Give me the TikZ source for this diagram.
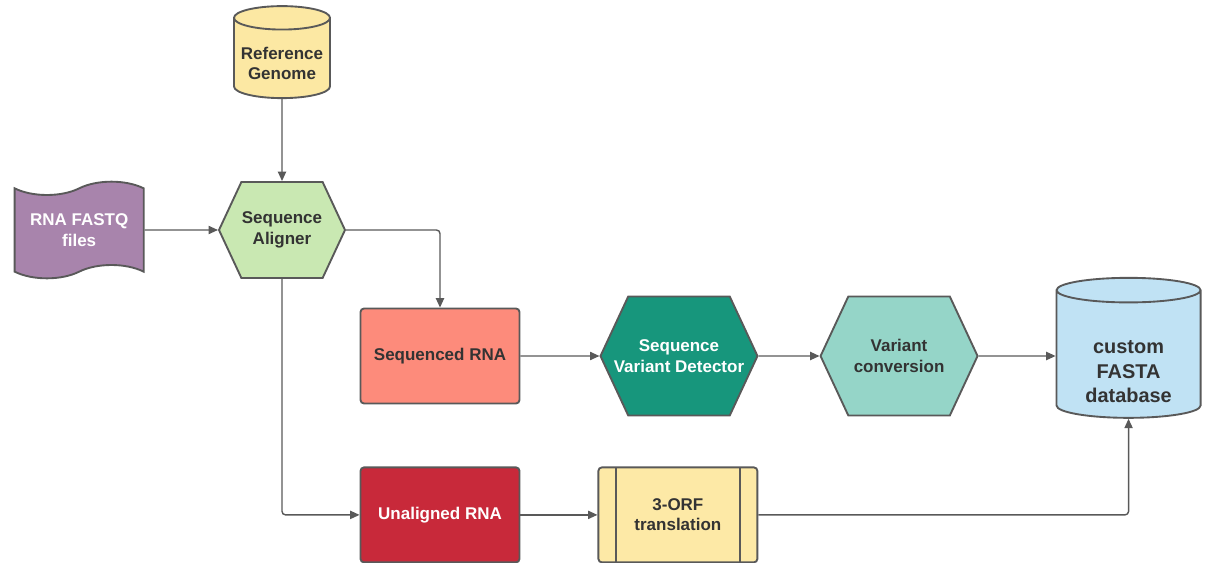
\documentclass[tikz,border=0pt]{standalone}
\usepackage{fontspec}
\setmainfont{Liberation Sans}
\usetikzlibrary{positioning, shapes.geometric, shapes.symbols, arrows.meta}

\definecolor{linegray}{HTML}{595959}
\definecolor{textdark}{HTML}{333333}
\definecolor{genomeyellow}{HTML}{FCE8A3}
\definecolor{alignergreen}{HTML}{C9E8B2}
\definecolor{fastqpurple}{HTML}{A884AC}
\definecolor{seqsalmon}{HTML}{FD8B7B}
\definecolor{detectteal}{HTML}{17967C}
\definecolor{convteal}{HTML}{95D5C8}
\definecolor{dbblue}{HTML}{C0E2F4}
\definecolor{unalignedred}{HTML}{C8293A}
\definecolor{orfyellow}{HTML}{FDE9A6}

\begin{document}
\begin{tikzpicture}[
    x=0.03cm, y=-0.03cm,
    >={Triangle[length=8pt,width=7pt]},
    arrow/.style={
        ->,
        draw=linegray,
        line width=1.2pt,
        rounded corners=3pt
    },
    base/.style={
        draw=linegray,
        line width=1.6pt,
        align=center,
        inner sep=2pt,
        text=textdark,
        font=\fontsize{14.5}{17.5}\selectfont\bfseries
    },
    box/.style={
        base,
        rectangle,
        rounded corners=3pt,
        minimum width=4.77cm,
        minimum height=2.85cm
    },
    process/.style={
        box,
        path picture={
            \draw[linegray, line width=1.6pt]
                ([xshift=0.52cm]path picture bounding box.north west) --
                ([xshift=0.52cm]path picture bounding box.south west);
            \draw[linegray, line width=1.6pt]
                ([xshift=-0.52cm]path picture bounding box.north east) --
                ([xshift=-0.52cm]path picture bounding box.south east);
        }
    },
    hexa/.style={
        base,
        signal,
        signal to=west and east,
        signal pointer angle=130,
        inner xsep=-14pt
    },
    drum/.style={
        base,
        cylinder,
        shape border rotate=90,
        aspect=0.27
    },
    flag/.style={
        base,
        tape,
        tape bend top=in and out,
        tape bend bottom=in and out,
        tape bend height=0.4cm,
        minimum width=3.87cm,
        minimum height=2.9cm
    }
]

    \useasboundingbox (0,0) rectangle (1210,563);

    % Alignment
    \node[hexa, fill=alignergreen, minimum width=3.78cm, minimum height=2.88cm] (aligner) at (282,230) {Sequence\\Aligner};
    \node[drum, fill=genomeyellow, minimum width=2.88cm, minimum height=2.76cm, text height=33pt, above=2.46cm of aligner] (genome) {Reference\\Genome};
    \node[flag, fill=fastqpurple, text=white, left=2.2cm of aligner] (fastq) {RNA FASTQ\\files};

    \draw[arrow] (genome) -- (aligner);
    \draw[arrow] (fastq) -- (aligner);

    % Aligned branch
    \node[box, fill=seqsalmon] (seqrna) at (440,356) {Sequenced RNA};
    \node[hexa, fill=detectteal, text=white, minimum width=4.71cm, minimum height=3.57cm, right=2.37cm of seqrna] (detector) {Sequence\\Variant Detector};
    \node[hexa, fill=convteal, minimum width=4.71cm, minimum height=3.57cm, right=1.83cm of detector] (conv) {Variant\\conversion};
    \node[drum, fill=dbblue, minimum width=4.32cm, minimum height=4.2cm, text height=80pt, font=\fontsize{17}{21}\selectfont\bfseries, right=2.31cm of conv] (db) {custom\\FASTA\\database};

    \draw[arrow] (aligner.east) -| (seqrna.north);
    \draw[arrow] (seqrna) -- (detector);
    \draw[arrow] (detector) -- (conv);
    \draw[arrow] (conv) -- (db);

    % Unaligned branch
    \node[box, fill=unalignedred, text=white, below=1.86cm of seqrna] (unaligned) {Unaligned RNA};
    \node[process, fill=orfyellow, right=2.31cm of unaligned] (orf) {3-ORF\\translation};

    \draw[arrow] (aligner.south) |- (unaligned.west);
    \draw[arrow] (unaligned) -- (orf);
    \draw[arrow] (orf.east) -| (db.south);

\end{tikzpicture}
\end{document}
